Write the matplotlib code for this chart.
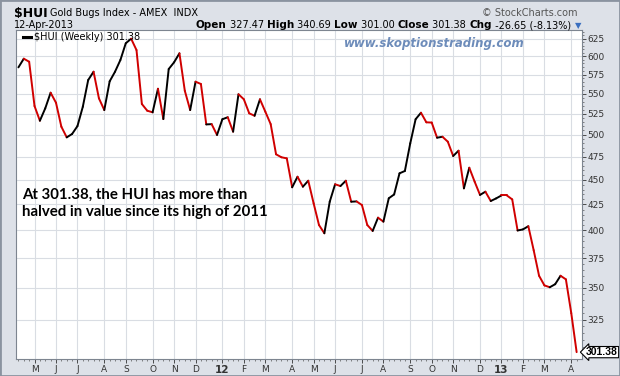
import numpy as np
import pandas as pd
import matplotlib
matplotlib.use('Agg')
import matplotlib.pyplot as plt
from matplotlib.collections import LineCollection
from matplotlib.ticker import FixedLocator, NullFormatter
from matplotlib.patches import Rectangle

# weekly closes of $HUI, 15-Apr-2011 .. 12-Apr-2013
weeks = pd.date_range('2011-04-15', periods=105, freq='W-FRI')
hui = [584.7, 596.6, 592.4, 534.4, 516.4, 531.5, 551.2, 538.5, 509.3, 496.8,
       500.7, 510.0, 533.5, 567.7, 578.8, 544.0, 529.4, 566.0, 578.8, 594.8,
       618.4, 625.0, 608.7, 536.9, 528.6, 526.6, 556.3, 518.4, 582.4, 591.6,
       604.1, 553.7, 529.4, 565.5, 562.5, 512.0, 512.3, 499.6, 518.2, 520.6,
       503.4, 549.2, 542.8, 525.4, 522.4, 542.8, 527.4, 512.3, 477.6, 474.3,
       473.1, 442.3, 453.3, 442.9, 449.1, 426.1, 405.1, 397.4, 427.7, 445.4,
       443.6, 449.1, 427.7, 428.0, 424.4, 405.1, 399.6, 412.1, 408.3, 431.1,
       435.0, 456.9, 459.4, 489.9, 518.2, 526.1, 514.5, 514.2, 496.4, 497.5,
       491.8, 475.7, 481.6, 441.2, 462.9, 448.1, 434.5, 437.8, 428.4, 431.0,
       434.0, 434.0, 430.0, 400.0, 401.0, 404.0, 382.0, 360.0, 352.0, 350.5,
       353.0, 360.0, 357.0, 330.0, 301.38]
yticks = list(range(325, 626, 25))
last_close = '301.38'
quote = [('Open', ' 327.47 '), ('High', ' 340.69 '), ('Low', ' 301.00 '),
         ('Close', ' 301.38 '), ('Chg', ' -26.65 (-8.13%)')]
note = 'At 301.38, the HUI has more than\nhalved in value since its high of 2011'

W, H = 620, 376
def px(x, y):
    return x / W, 1 - y / H

fig = plt.figure(figsize=(6.2, 3.76), dpi=100)
fig.patch.set_facecolor('#dde1e8')
fig.patches.append(Rectangle((0, 0), 1, 1, transform=fig.transFigure,
                             fill=False, edgecolor='#8a93a0', lw=2))

ax = fig.add_axes([16 / W, 1 - 359 / H, 566 / W, 329 / H])
ax.set_facecolor('white')
ax.set_yscale('log')
ax.set_ylim(296.6, 637.8)
ax.set_xlim(-0.45, 105)

x = np.arange(len(hui))
y = np.array(hui)
pts = np.column_stack([x, y]).reshape(-1, 1, 2)
segs = np.concatenate([pts[:-1], pts[1:]], axis=1)
cols = ['#000000' if b > a else '#d00000' for a, b in zip(y[:-1], y[1:])]
ax.add_collection(LineCollection(segs, colors=cols, linewidths=1.4,
                                 capstyle='round', joinstyle='round'))

# y axis on the right
ax.yaxis.tick_right()
ax.yaxis.set_major_locator(FixedLocator(yticks))
ax.yaxis.set_minor_locator(FixedLocator(list(range(300, 640, 5))))
ax.yaxis.set_minor_formatter(NullFormatter())
ax.set_yticklabels([str(v) for v in yticks])
ax.tick_params(axis='y', which='major', length=3, width=0.6, pad=1,
               labelsize=6.5, colors='#333333')
ax.tick_params(axis='y', which='minor', length=1.5, width=0.5, color='#555555')

# x axis: month starts
month_idx = [i for i in range(1, len(weeks)) if weeks[i].month != weeks[i - 1].month]
month_lbl = []
for i in month_idx:
    d = weeks[i]
    month_lbl.append(d.strftime('%y') if d.month == 1 else d.strftime('%b')[0])
ax.xaxis.set_major_locator(FixedLocator(month_idx))
ax.set_xticklabels(month_lbl)
ax.xaxis.set_minor_locator(FixedLocator(list(range(len(weeks)))))
ax.tick_params(axis='x', which='major', length=3, width=0.6, pad=1.5,
               labelsize=6.5, colors='#333333')
ax.tick_params(axis='x', which='minor', length=1.5, width=0.5, color='#555555')
for t in ax.get_xticklabels():
    if t.get_text().isdigit():
        t.set_fontweight('bold')
        t.set_fontsize(7.5)

ax.grid(True, which='major', color='#d9dde3', lw=0.8)
ax.set_axisbelow(True)
for s in ax.spines.values():
    s.set_color('#7d8590')
    s.set_linewidth(0.8)

# header
fig.text(*px(14, 17), r'\$HUI', fontsize=9, fontweight='bold', va='baseline')
fig.text(*px(50, 16), 'Gold Bugs Index - AMEX  INDX', fontsize=7, va='baseline')
fig.text(*px(577, 16), '\u00a9 StockCharts.com', fontsize=7, va='baseline',
         ha='right', color='#555555')
fig.text(*px(14, 28), '12-Apr-2013', fontsize=7, va='baseline')
prev = None
for lab, val in quote:
    if prev is None:
        prev = fig.text(*px(196, 28), lab, fontsize=7.5, fontweight='bold', va='baseline')
    else:
        prev = ax.annotate(lab, xy=(1, 0), xycoords=prev, fontsize=7.5,
                           fontweight='bold', va='bottom', annotation_clip=False)
    prev = ax.annotate(val, xy=(1, 0), xycoords=prev, fontsize=7,
                       va='bottom', annotation_clip=False)
fig.text(*px(575, 28), '\u25bc', fontsize=6, color='#3a6fc0', va='baseline')

# legend
ax.plot([0.012, 0.026], [0.978, 0.978], transform=ax.transAxes, color='black', lw=2.2)
ax.text(0.032, 0.978, r'\$HUI (Weekly) 301.38', transform=ax.transAxes,
        fontsize=7, va='center')

ax.text(0.74, 0.958, 'www.skoptionstrading.com', transform=ax.transAxes,
        fontsize=8.5, fontweight='bold', style='italic', color='#6d8cba',
        ha='center', va='center')

ax.text(0.011, 0.473, note, transform=ax.transAxes, fontsize=10.8,
        family='Lato', fontweight='bold', va='center', linespacing=1.33)

ax.annotate(last_close, xy=(1.0, hui[-1]), xycoords=('axes fraction', 'data'),
            xytext=(3, 0), textcoords='offset points', fontsize=7.5,
            family='Liberation Sans', fontweight='bold', va='center', ha='left',
            annotation_clip=False,
            bbox=dict(boxstyle='larrow,pad=0.06', fc='white', ec='black', lw=0.8))

fig.savefig('out.png', dpi=100, facecolor=fig.get_facecolor())
